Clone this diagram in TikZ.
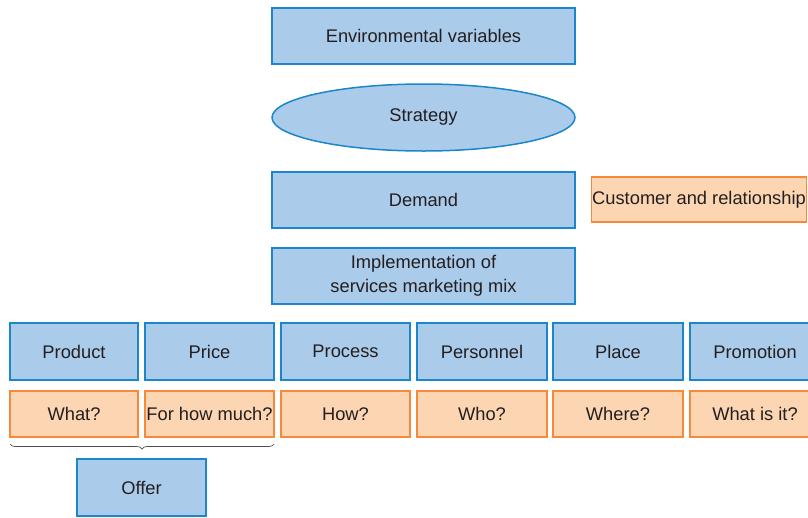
\documentclass[tikz,border=0pt]{standalone}
\usepackage{fontspec}
\setmainfont{Liberation Sans}
\usetikzlibrary{shapes.geometric,decorations.pathreplacing}
\definecolor{bfill}{RGB}{170,203,234}
\definecolor{bdraw}{RGB}{28,134,202}
\definecolor{ofill}{RGB}{252,213,178}
\definecolor{odraw}{RGB}{246,138,58}
\definecolor{txt}{RGB}{35,31,32}
\tikzset{
  base/.style={inner sep=0pt, line width=1.5pt, text=txt, font=\fontsize{18.3}{24}\selectfont, align=center},
  bluebox/.style={base, rectangle, draw=bdraw, fill=bfill},
  orangebox/.style={base, rectangle, draw=odraw, fill=ofill},
  blueell/.style={base, ellipse, draw=bdraw, fill=bfill},
}
\begin{document}
\begin{tikzpicture}[x=1pt,y=-1pt]
\useasboundingbox (0,0) rectangle (808,517);
\node[bluebox, minimum width=303pt, minimum height=56pt] (env) at (423.5,36) {Environmental variables};
\node[blueell, minimum width=303pt, minimum height=67pt] (strat) at (423.5,117.5) {\raisebox{-2pt}{Strategy}};
\node[bluebox, minimum width=303pt, minimum height=56pt] (dem) at (423.5,200) {\raisebox{1pt}{Demand}};
\node[orangebox, minimum width=215pt, minimum height=45pt] (cust) at (699,199.5) {Customer and relationship};
\node[bluebox, minimum width=303pt, minimum height=56pt] (impl) at (423.5,276) {Implementation of\\services marketing mix};
\node[bluebox, minimum width=128pt, minimum height=57pt] (prod) at (74,351.5) {Product};
\node[bluebox, minimum width=129pt, minimum height=57pt] (price) at (209.5,351.5) {Price};
\node[bluebox, minimum width=129pt, minimum height=57pt] (proc) at (345.5,351.5) {Process};
\node[bluebox, minimum width=130pt, minimum height=57pt] (pers) at (482,351.5) {Personnel};
\node[bluebox, minimum width=130pt, minimum height=57pt] (place) at (618,351.5) {Place};
\node[bluebox, minimum width=130pt, minimum height=57pt] (promo) at (755,351.5) {Promotion};
\node[orangebox, minimum width=128pt, minimum height=46pt] (what) at (74,414) {What?};
\node[orangebox, minimum width=129pt, minimum height=46pt] (howmuch) at (209.5,414) {For how much?};
\node[orangebox, minimum width=129pt, minimum height=46pt] (how) at (345.5,414) {How?};
\node[orangebox, minimum width=130pt, minimum height=46pt] (who) at (482,414) {Who?};
\node[orangebox, minimum width=130pt, minimum height=46pt] (where) at (618,414) {Where?};
\node[orangebox, minimum width=130pt, minimum height=46pt] (whatis) at (755,414) {What is it?};
\node[bluebox, minimum width=129pt, minimum height=57pt] (offer) at (141.5,487.5) {Offer};
\coordinate (bl) at (10,444);
\coordinate (br) at (274,444);
\draw[txt!80, line width=0.7pt, decorate, decoration={brace, mirror, amplitude=5pt}] (bl) -- (br);
\end{tikzpicture}
\end{document}
